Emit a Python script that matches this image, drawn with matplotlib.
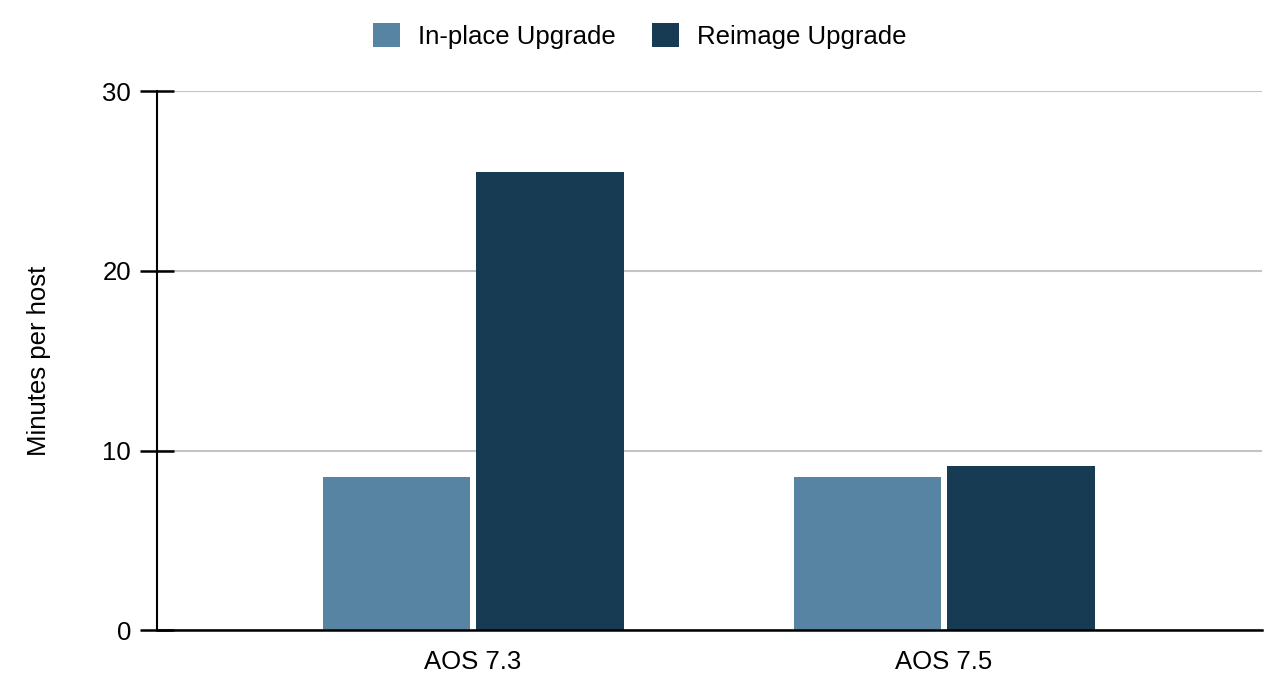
import numpy as np
import matplotlib.pyplot as plt
from matplotlib.patches import Patch

plt.rcParams['font.family'] = ['Liberation Sans', 'DejaVu Sans']

# data
versions = ["AOS 7.3", "AOS 7.5"]
in_place = [8.5, 8.5]
reimage = [25.5, 9.15]
series_names = ["In-place Upgrade", "Reimage Upgrade"]
colors = ["#5884a3", "#173b53"]

fig = plt.figure(figsize=(12.8, 6.85), dpi=100)
ax = fig.add_axes([0.123, 0.08, 0.863, 0.787])

x = np.arange(len(versions))
w = 0.313
ax.bar(x - 0.163, in_place, width=w, color=colors[0], zorder=3)
ax.bar(x + 0.163, reimage, width=w, color=colors[1], zorder=3)

ax.set_xlim(-0.67, 1.675)
ax.set_ylim(0, 30)
ax.set_yticks([0, 10, 20, 30])
ax.set_xticks(x)
ax.set_xticklabels(versions)
ax.tick_params(axis='x', length=0, labelsize=18.5, pad=14)
ax.tick_params(axis='y', direction='inout', length=24, width=1.8, labelsize=18.5, pad=7)
ax.yaxis.grid(True, color='#c4c4c4', linewidth=1.5, zorder=0)

for s in ['top', 'right']:
    ax.spines[s].set_visible(False)
ax.spines['left'].set_linewidth(1.5)
ax.spines['bottom'].set_linewidth(1.8)
ax.spines['bottom'].set_zorder(4)

ax.set_ylabel("Minutes per host", fontsize=18.5, labelpad=37)

handles = [Patch(facecolor=c, label=n) for c, n in zip(colors, series_names)]
fig.legend(handles=handles, loc='upper center', bbox_to_anchor=(0.5, 1.0), ncol=2,
           frameon=False, fontsize=18.5, handlelength=1.05, handleheight=1.05,
           handletextpad=0.7, columnspacing=1.4)

fig.savefig("out.png", dpi=100)
